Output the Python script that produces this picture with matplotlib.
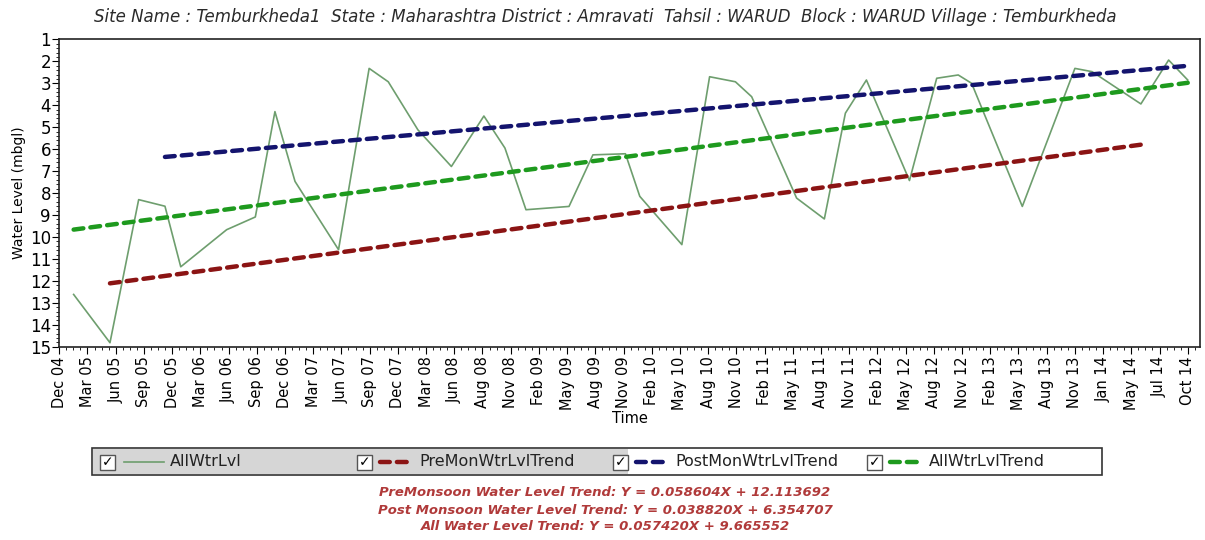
import numpy as np
import matplotlib.pyplot as plt
from matplotlib.ticker import AutoMinorLocator, FixedLocator
from matplotlib.patches import Rectangle
from matplotlib.lines import Line2D

plt.rcParams['font.family'] = ['DejaVu Sans']

# Observations: months since Dec 2004, depth to water (m below ground level)
months = [1.5, 5.3, 8.3, 11.05, 12.7, 17.5, 20.5, 22.55, 24.65, 29.2,
          32.4, 34.4, 37.5, 41.0, 44.4, 46.6, 48.8, 53.3, 55.8, 59.2,
          60.7, 65.1, 68.0, 70.7, 72.4, 77.1, 80.0, 82.2, 84.4, 88.9,
          91.75, 94.0, 95.4, 100.7, 106.2, 108.0, 113.1, 116.0, 118.0]
levels = [12.62, 14.82, 8.3, 8.6, 11.36, 9.67, 9.09, 4.29, 7.47, 10.58,
          2.32, 2.93, 5.12, 6.79, 4.49, 5.95, 8.76, 8.61, 6.26, 6.21,
          8.15, 10.35, 2.70, 2.93, 3.61, 8.23, 9.18, 4.36, 2.85, 7.43,
          2.77, 2.62, 3.0, 8.61, 2.32, 2.47, 3.94, 1.94, 2.85]

# Trend lines: slope, intercept, first and last month of the fitted series
trend_names = ['PreMonWtrLvlTrend', 'PostMonWtrLvlTrend', 'AllWtrLvlTrend']
trend_slopes = [0.058604, 0.038820, 0.057420]
trend_intercepts = [12.113692, 6.354707, 9.665552]
trend_start = [5.3, 11.05, 1.5]
trend_end = [113.1, 118.0, 118.0]
trend_colors = ['#8b1414', '#14146e', '#1e9a1e']

tick_labels = ['Dec 04', 'Mar 05', 'Jun 05', 'Sep 05', 'Dec 05', 'Mar 06', 'Jun 06',
               'Sep 06', 'Dec 06', 'Mar 07', 'Jun 07', 'Sep 07', 'Dec 07', 'Mar 08',
               'Jun 08', 'Aug 08', 'Nov 08', 'Feb 09', 'May 09', 'Aug 09', 'Nov 09',
               'Feb 10', 'May 10', 'Aug 10', 'Nov 10', 'Feb 11', 'May 11', 'Aug 11',
               'Nov 11', 'Feb 12', 'May 12', 'Aug 12', 'Nov 12', 'Feb 13', 'May 13',
               'Aug 13', 'Nov 13', 'Jan 14', 'May 14', 'Jul 14', 'Oct 14']

equations = ['PreMonsoon Water Level Trend: Y = 0.058604X + 12.113692',
             'Post Monsoon Water Level Trend: Y = 0.038820X + 6.354707',
             'All Water Level Trend: Y = 0.057420X + 9.665552']

title = ('Site Name : Temburkheda1  State : Maharashtra District : Amravati  '
         'Tahsil : WARUD  Block : WARUD Village : Temburkheda')

line_color = '#6e9e6e'

fig = plt.figure(figsize=(12.05, 5.4), dpi=100)
ax = fig.add_axes([0.0492, 0.358, 0.9468, 0.569])

ax.plot(months, levels, color=line_color, lw=1.2, zorder=2)

for s, b, m0, m1, c in zip(trend_slopes, trend_intercepts, trend_start, trend_end, trend_colors):
    x = np.array([m0, m1])
    y = b - s * (x - m0)
    ax.plot(x, y, color=c, lw=3.2, dashes=(2.2, 1.6), dash_capstyle='round', zorder=3)

ax.set_xlim(0, 119.3)
ax.set_ylim(15, 1)
ax.xaxis.set_major_locator(FixedLocator(np.linspace(0, 118, len(tick_labels))))
ax.set_xticklabels(tick_labels, rotation=90, fontsize=10.5)
ax.xaxis.set_minor_locator(AutoMinorLocator(4))
ax.set_yticks(range(1, 16))
ax.yaxis.set_minor_locator(AutoMinorLocator(5))
ax.tick_params(axis='y', labelsize=12, length=5, pad=1)
ax.tick_params(axis='x', length=5, pad=2)
ax.tick_params(which='minor', length=2.5)
for sp in ax.spines.values():
    sp.set_color('#222222')
    sp.set_linewidth(1.2)

ax.set_ylabel('Water Level (mbgl)', fontsize=10, labelpad=3)
ax.set_xlabel('Time', fontsize=10.5, labelpad=1)

fig.text(0.502, 0.968, title, ha='center', va='center', fontsize=12,
         style='italic', color='#2a2a2a')

# legend strip drawn in pixel units of the figure
W, H = 1205.0, 540.0
def fx(px):
    return px / W
def fy(py):
    return 1 - py / H

fig.patches.append(Rectangle((fx(92), fy(475)), fx(1102) - fx(92), fy(448) - fy(475),
                             transform=fig.transFigure, facecolor='white',
                             edgecolor='#333333', lw=1.2))
fig.patches.append(Rectangle((fx(93), fy(474)), fx(628) - fx(93), fy(449) - fy(474),
                             transform=fig.transFigure, facecolor='#d6d6d6',
                             edgecolor='none'))

legend_x = [100, 357, 613, 867]
legend_names = ['AllWtrLvl'] + trend_names
legend_colors = [line_color] + trend_colors
for i, (lx, name, c) in enumerate(zip(legend_x, legend_names, legend_colors)):
    fig.patches.append(Rectangle((fx(lx), fy(470)), fx(lx + 15) - fx(lx), fy(455) - fy(470),
                                 transform=fig.transFigure, facecolor='white',
                                 edgecolor='#555555', lw=1.0))
    fig.text(fx(lx + 7.5), fy(462), '\u2713', ha='center', va='center', fontsize=10,
             fontweight='bold', color='black')
    if i == 0:
        fig.add_artist(Line2D([fx(lx + 24), fx(lx + 64)], [fy(462), fy(462)],
                              transform=fig.transFigure, color=c, lw=1.2))
        tx = lx + 70
    else:
        fig.add_artist(Line2D([fx(lx + 23), fx(lx + 53)], [fy(462), fy(462)],
                              transform=fig.transFigure, color=c, lw=3.2,
                              dashes=(2.2, 1.6), dash_capstyle='round'))
        tx = lx + 62
    fig.text(fx(tx), fy(462), name, ha='left', va='center', fontsize=11.5, color='#222222')

for k, eq in enumerate(equations):
    fig.text(fx(605), fy(493 + 17 * k), eq, ha='center', va='center', fontsize=9.5,
             style='italic', fontweight='bold', color='#b03a3a')

fig.savefig('out.png', dpi=100)
